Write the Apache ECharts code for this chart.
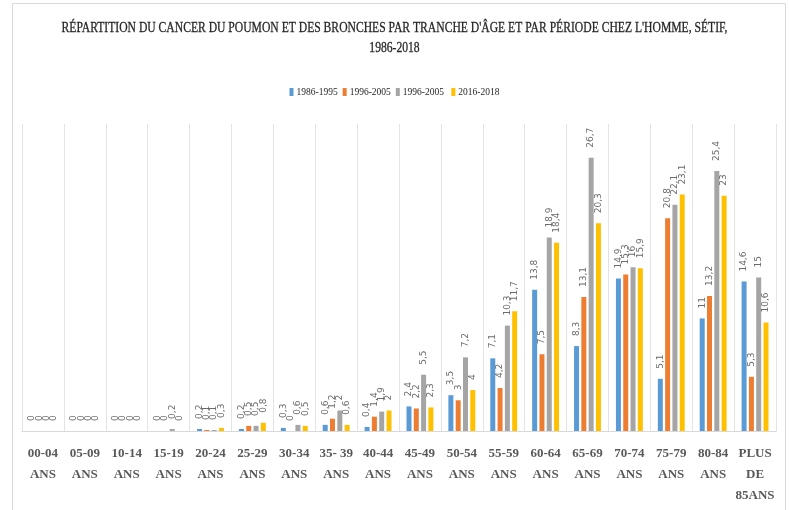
<!DOCTYPE html>
<html>
<head>
<meta charset="utf-8">
<script src="https://cdn.jsdelivr.net/npm/echarts@6/dist/echarts.min.js"></script>
<style>
  html, body { margin: 0; padding: 0; background: #ffffff; }
  #chart { width: 789px; height: 510px; }
</style>
</head>
<body>
<div id="chart"></div>
<script>
// Age groups (two-line axis labels)
const ageGroups = [
  '00-04\nANS', '05-09\nANS', '10-14\nANS', '15-19\nANS', '20-24\nANS', '25-29\nANS',
  '30-34\nANS', '35- 39\nANS', '40-44\nANS', '45-49\nANS', '50-54\nANS', '55-59\nANS',
  '60-64\nANS', '65-69\nANS', '70-74\nANS', '75-79\nANS', '80-84\nANS', 'PLUS\nDE\n85ANS'
];

// Period names as printed in the legend
const periods = ['1986-1995', '1996-2005', '1996-2005 ', '2016-2018'];

// Share of cases (%) per age group, one array per period
const p1986_1995 = [0, 0, 0, 0, 0.2, 0.2, 0.3, 0.6, 0.4, 2.4, 3.5, 7.1, 13.8, 8.3, 14.9, 5.1, 11, 14.6];
const p1996_2005 = [0, 0, 0, 0, 0.1, 0.5, 0, 1.2, 1.4, 2.2, 3, 4.2, 7.5, 13.1, 15.3, 20.8, 13.2, 5.3];
const p1996_2005b = [0, 0, 0, 0.2, 0.1, 0.5, 0.6, 2, 1.9, 5.5, 7.2, 10.3, 18.9, 26.7, 16, 22.1, 25.4, 15];
const p2016_2018 = [0, 0, 0, 0, 0.3, 0.8, 0.5, 0.6, 2, 2.3, 4, 11.7, 18.4, 20.3, 15.9, 23.1, 23, 10.6];

const seriesValues = [p1986_1995, p1996_2005, p1996_2005b, p2016_2018];
const colors = ['#5B9BD5', '#ED7D31', '#A5A5A5', '#FFC000'];

const titleLine1 = "RÉPARTITION DU CANCER DU POUMON ET DES BRONCHES PAR TRANCHE D'ÂGE ET PAR PÉRIODE CHEZ L'HOMME, SÉTIF,";
const titleLine2 = '1986-2018';

const chart = echarts.init(document.getElementById('chart'), null, { renderer: 'canvas' });

const series = periods.map((name, i) => ({
  name: name,
  type: 'bar',
  data: seriesValues[i],
  barWidth: 5,
  barGap: '46%',
  itemStyle: { color: colors[i] },
  label: {
    show: true,
    position: 'top',
    rotate: 90,
    align: 'left',
    verticalAlign: 'middle',
    distance: 10,
    color: '#6b6b6b',
    fontFamily: 'DejaVu Sans',
    fontSize: 9,
    formatter: p => String(p.value).replace('.', ',')
  }
}));

// Condensed serif title lines
function titleText(text, y) {
  return {
    type: 'text',
    x: 394.5,
    y: y,
    scaleX: 0.775,
    style: {
      text: text,
      font: '15px "Liberation Serif"',
      fill: '#262626',
      stroke: '#262626',
      lineWidth: 0.3,
      textAlign: 'center',
      textVerticalAlign: 'middle'
    }
  };
}

chart.setOption({
  animation: false,
  backgroundColor: '#ffffff',
  color: colors,
  graphic: [
    {
      type: 'rect',
      silent: true,
      shape: { x: 12.5, y: 3.5, width: 773, height: 530 },
      style: { fill: 'none', stroke: '#d9d9d9', lineWidth: 1 }
    },
    titleText(titleLine1, 28),
    titleText(titleLine2, 48)
  ],
  legend: {
    data: periods,
    top: 82,
    left: 'center',
    itemWidth: 4,
    itemHeight: 8,
    itemGap: 5,
    icon: 'rect',
    textStyle: {
      fontFamily: 'Liberation Serif',
      fontSize: 9.5,
      color: '#262626',
      padding: [0, 0, 0, -2]
    }
  },
  grid: {
    left: 22,
    right: 13,
    top: 124,
    bottom: 79,
    containLabel: false
  },
  xAxis: {
    type: 'category',
    data: ageGroups,
    boundaryGap: true,
    axisLine: { show: true, lineStyle: { color: '#d9d9d9', width: 1 } },
    axisTick: { show: false },
    splitLine: { show: true, lineStyle: { color: '#e3e3e3', width: 1 } },
    axisLabel: {
      interval: 0,
      margin: 12,
      fontFamily: 'Liberation Serif',
      fontWeight: 'bold',
      fontSize: 13,
      lineHeight: 21,
      color: '#595959'
    }
  },
  yAxis: {
    type: 'value',
    min: 0,
    max: 30,
    show: false,
    splitLine: { show: false }
  },
  series: series
});
</script>
</body>
</html>
